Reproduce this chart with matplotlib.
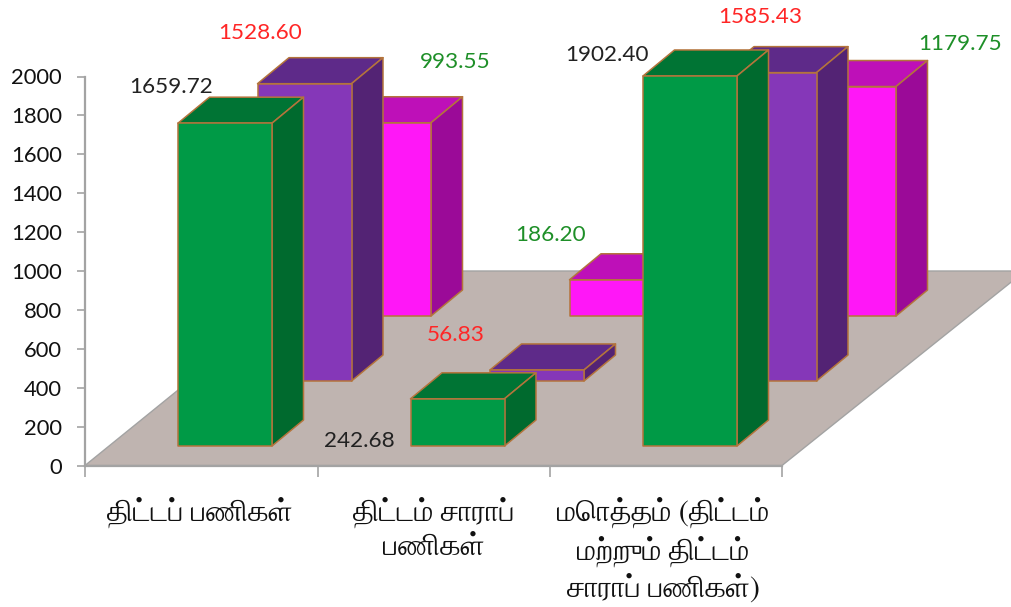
import matplotlib
matplotlib.use("Agg")
import matplotlib.pyplot as plt
from matplotlib.patches import Polygon
from matplotlib.ticker import NullFormatter

categories = ["திட்டப் பணிகள்", "திட்டம் சாராப்\nபணிகள்", "மொத்தம் (திட்டம்\nமற்றும் திட்டம்\nசாராப் பணிகள்)"]
series_green = [1659.72, 242.68, 1902.40]
series_purple = [1528.60, 56.83, 1585.43]
series_magenta = [993.55, 186.20, 1179.75]
yticks = list(range(0, 2001, 200))

# styles: (front, side, top)
GREEN = ("#009A46", "#006A2E", "#007434")
PURPLE = ("#8537B8", "#532374", "#5E2A89")
MAGENTA = ("#FF17F7", "#9B0A98", "#BE10B8")
EDGE = "#B4743C"
PX = 0.1945  # pixels per value unit
ZERO = 465.5


def v(p):
    return (ZERO - p) / PX


plt.rcParams["font.family"] = ["Lato", "DejaVu Sans"]
fig = plt.figure(figsize=(10.11, 6.07), dpi=100)
ax = fig.add_axes([0, 0, 1, 1])
ax.set_xlim(0, 1011)
ax.set_ylim(v(607), v(0))
ax.patch.set_visible(False)

for s in ("top", "right"):
    ax.spines[s].set_visible(False)
ax.spines["left"].set_position(("data", 85))
ax.spines["left"].set_bounds(0, 2000)
ax.spines["bottom"].set_position(("data", 0))
ax.spines["bottom"].set_bounds(85, 782)
for s in ("left", "bottom"):
    ax.spines[s].set_color("#A3A3A3")
    ax.spines[s].set_linewidth(1.6)
ax.set_yticks(yticks)
ax.tick_params(axis="y", length=6, width=1.2, color="#A3A3A3", labelsize=15.8, pad=10.5, labelcolor="#111111")
ax.set_xticks([85, 317.5, 550, 782])
ax.xaxis.set_major_formatter(NullFormatter())
ax.tick_params(axis="x", length=8, width=1.2, color="#A3A3A3")

# floor
ax.add_patch(Polygon([(85, 0), (782, 0), (1025, v(271)), (325, v(271))], closed=True,
                     facecolor="#BFB4B0", edgecolor="#A3A3A3", lw=1.0, zorder=1))

WIDTH = 94
DX, DY = 31.5, 26 / PX
BX0, CAT_STEP, SER_STEP = 178, 232.5, 79.5
BASE0, BASE_STEP = 19.5 / PX, 65 / PX


def draw_bar(i, s, val, cols):
    x0 = BX0 + CAT_STEP * i + SER_STEP * s
    x1 = x0 + WIDTH
    b = BASE0 + BASE_STEP * s
    t = b + val
    kw = dict(closed=True, edgecolor=EDGE, lw=1.1, joinstyle="round")
    z = 10 + (2 - s) * 10 + i
    ax.add_patch(Polygon([(x0, t), (x1, t), (x1 + DX, t + DY), (x0 + DX, t + DY)], facecolor=cols[2], zorder=z, **kw))
    ax.add_patch(Polygon([(x1, b), (x1 + DX, b + DY), (x1 + DX, t + DY), (x1, t)], facecolor=cols[1], zorder=z, **kw))
    ax.add_patch(Polygon([(x0, b), (x1, b), (x1, t), (x0, t)], facecolor=cols[0], zorder=z, **kw))


for s, (vals, cols) in reversed(list(enumerate([(series_green, GREEN), (series_purple, PURPLE), (series_magenta, MAGENTA)]))):
    for i, val in enumerate(vals):
        draw_bar(i, s, val, cols)

# data labels
label_xy = {
    0: [(171, 87), (359, 441), (607, 55)],
    1: [(260, 33), (456, 335), (760, 17)],
    2: [(455, 62), (551, 235), (960, 44)],
}
label_col = {0: "#222222", 1: "#FF2626", 2: "#1E8F28"}
for s, vals in enumerate([series_green, series_purple, series_magenta]):
    for val, (px, py) in zip(vals, label_xy[s]):
        ax.text(px, v(py), f"{val:.2f}", ha="center", va="center", fontsize=16.2,
                color=label_col[s], zorder=100)

# category labels
cat_x = [200, 434, 663]
for x, c in zip(cat_x, categories):
    ax.text(x, v(497), c, ha="center", va="top", color="#111111", family=["FreeSerif"],
            fontsize=21.5, linespacing=1.3, zorder=100)

fig.savefig("out.png", dpi=100)
